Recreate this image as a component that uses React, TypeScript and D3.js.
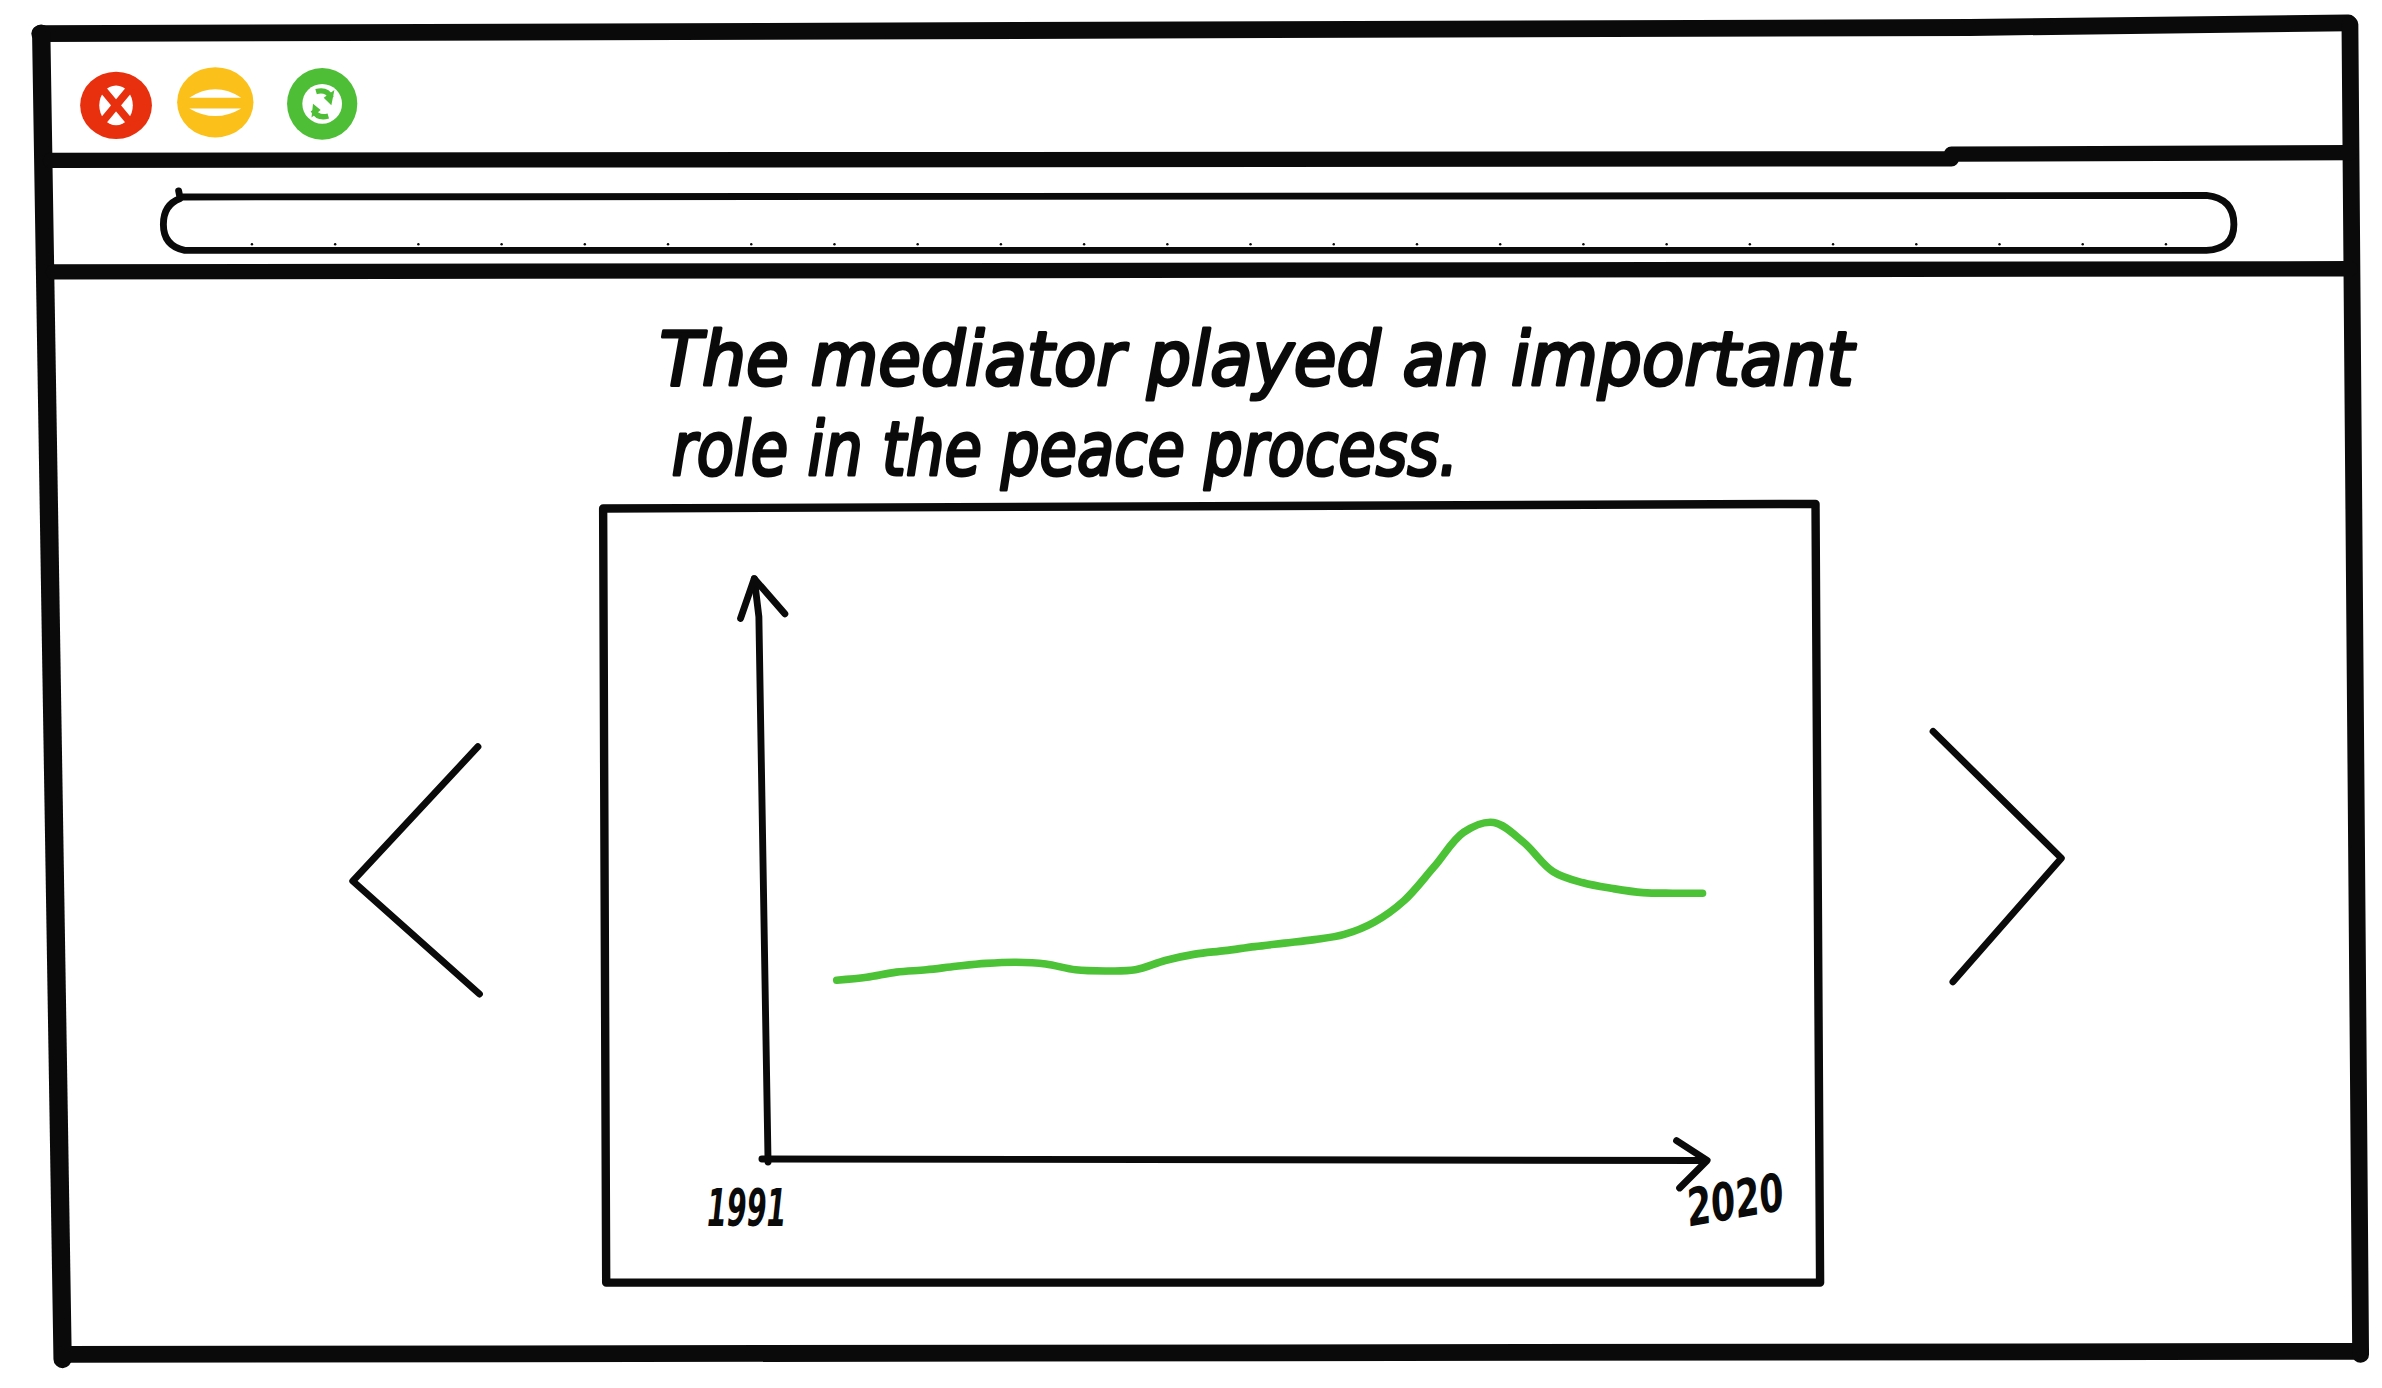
import * as d3 from "d3"

// sketch data: an index, one point per year
const years = [
  1991, 1992, 1993, 1994, 1995, 1996, 1997, 1998, 1999, 2000,
  2001, 2002, 2003, 2004, 2005, 2006, 2007, 2008, 2009, 2010,
  2011, 2012, 2013, 2014, 2015, 2016, 2017, 2018, 2019, 2020,
]
const values = [
  30.8, 31.3, 32.2, 32.6, 33.2, 33.7, 33.9, 33.6, 32.6, 32.4,
  32.6, 34.2, 35.3, 35.9, 36.6, 37.2, 37.8, 38.7, 40.8, 44.5,
  50.3, 56.3, 58.0, 54.6, 49.5, 47.6, 46.6, 45.9, 45.8, 45.8,
]
const axisLabels = ["1991", "2020"]
const titleLines = ["The mediator played an important", "role in the peace process."]

const W = 1560
const H = 909
const INK = "#0a0a0a"
const GREEN = "#4cc236"

interface Point {
  year: number
  value: number
}

function Buttons() {
  return (
    <g>
      {/* close */}
      <g transform="translate(76,69)">
        <ellipse rx={23.5} ry={22} fill="#e8300e" />
        <ellipse rx={11} ry={13} fill="#fff" />
        <path d="M-10,-12 L10,12 M10,-12 L-10,12" stroke="#e8300e" strokeWidth={5} />
      </g>
      {/* minimise */}
      <g transform="translate(141,67)">
        <ellipse rx={25} ry={23} fill="#fbc11a" />
        <path d="M-17,-3 Q0,-14 17,-3 Z" fill="#fff" />
        <path d="M-17,4 Q0,14 17,4 Z" fill="#fff" />
      </g>
      {/* refresh */}
      <g transform="translate(211,68)">
        <ellipse rx={23} ry={23.5} fill="#4dbe36" />
        <circle r={13} fill="#fff" />
        <path d="M-7,9 L-6,0 L-1,4 Z M8,-9 L6,1 L1,-4 Z" fill="#4dbe36" />
        <path d="M-6,4 Q-3,10 4,8 M6,-4 Q3,-10 -4,-8" stroke="#4dbe36" strokeWidth={3.5} fill="none" />
      </g>
    </g>
  )
}

function Frame() {
  const dots = d3.range(165, 1440, 54.5)
  return (
    <g fill="none" stroke={INK} strokeLinecap="round" strokeLinejoin="round">
      <path d="M26,22 L1290,18 L1538,15" strokeWidth={11} />
      <path d="M27,22 L41,890" strokeWidth={12} />
      <path d="M41,887 L1546,885" strokeWidth={11} />
      <path d="M1539,16 L1546,887" strokeWidth={11} />
      <path d="M33,105 L1278,104 M1278,101 L1539,100" strokeWidth={10} />
      <path d="M35,178 L1539,176" strokeWidth={10} />
      <path
        d="M118,129 L1445,128 Q1463,130 1463,147 Q1463,163 1445,164 L121,164 Q107,161 107,147 Q107,134 118,130 L117,125"
        strokeWidth={4.5}
      />
      {dots.map((x) => (
        <circle key={x} cx={x} cy={160} r={0.8} fill={INK} stroke="none" />
      ))}
      {/* carousel chevrons */}
      <path d="M313,489 L231,577 L314,651" strokeWidth={4.5} />
      <path d="M1266,479 L1350,562 L1279,643" strokeWidth={4.5} />
    </g>
  )
}

function Title() {
  const widths = [782, 515]
  const xs = [432, 440]
  const ys = [252, 311]
  return (
    <g
      fontFamily="'DejaVu Sans Condensed', 'Liberation Sans Narrow', sans-serif"
      fontStyle="italic"
      fontSize={49}
      fill={INK}
      stroke={INK}
      strokeWidth={2}
      strokeLinejoin="round"
    >
      {titleLines.map((t, i) => (
        <text key={t} x={xs[i]} y={ys[i]} textLength={widths[i]} lengthAdjust="spacingAndGlyphs">
          {t}
        </text>
      ))}
    </g>
  )
}

function LineChart() {
  const data: Point[] = years.map((year, i) => ({ year, value: values[i] }))

  const x = d3.scaleLinear().domain([years[0], years[years.length - 1]]).range([548, 1115])
  const y = d3.scaleLinear().domain([0, 100]).range([759, 379])

  const line = d3
    .line<Point>()
    .x((d) => x(d.year))
    .y((d) => y(d.value))
    .curve(d3.curveCatmullRom.alpha(0.5))

  const x0 = x(years[0]) - 47
  const x1 = x(years[years.length - 1])
  const yBase = y(0)
  const yTop = y(100)

  return (
    <g>
      {/* chart card */}
      <path
        d="M395,333 L1189,330 L1192,840 L397,840 Z"
        fill="none"
        stroke={INK}
        strokeWidth={5.5}
        strokeLinejoin="round"
      />
      <g fill="none" stroke={INK} strokeLinecap="round" strokeLinejoin="round" strokeWidth={4.5}>
        <path d={`M${x0 + 2},${yBase + 2} L${x0 - 4},${yTop + 25} L${x0 - 7},${yTop}`} />
        <path d={`M${x0 - 16},${yTop + 26} L${x0 - 7},${yTop} L${x0 + 13},${yTop + 23}`} />
        <path d={`M${x0 - 2},${yBase} L${x1},${yBase + 1}`} />
        <path d={`M${x1 - 17},${yBase - 12} L${x1 + 3},${yBase + 1} L${x1 - 15},${yBase + 19}`} />
      </g>
      <path
        d={line(data) ?? ""}
        fill="none"
        stroke={GREEN}
        strokeWidth={5}
        strokeLinecap="round"
        strokeLinejoin="round"
      />
      <g
        fontFamily="'DejaVu Sans Condensed', sans-serif"
        fontStyle="italic"
        fontWeight="bold"
        fontSize={34}
        fill={INK}
      >
        <text x={x0 - 38} y={yBase + 44} textLength={52} lengthAdjust="spacingAndGlyphs">
          {axisLabels[0]}
        </text>
        <text
          x={x1 - 8}
          y={yBase + 44}
          textLength={64}
          lengthAdjust="spacingAndGlyphs"
          transform={`rotate(-10 ${x1 - 8} ${yBase + 44})`}
        >
          {axisLabels[1]}
        </text>
      </g>
    </g>
  )
}

export default function App() {
  return (
    <div style={{ position: "fixed", left: 0, top: 0, width: 2382, height: 1388, background: "#fff" }}>
      <svg width={2382} height={1388} viewBox={`0 0 ${W} ${H}`} preserveAspectRatio="none">
        <rect width={W} height={H} fill="#fff" />
        <Frame />
        <Buttons />
        <Title />
        <LineChart />
      </svg>
    </div>
  )
}
